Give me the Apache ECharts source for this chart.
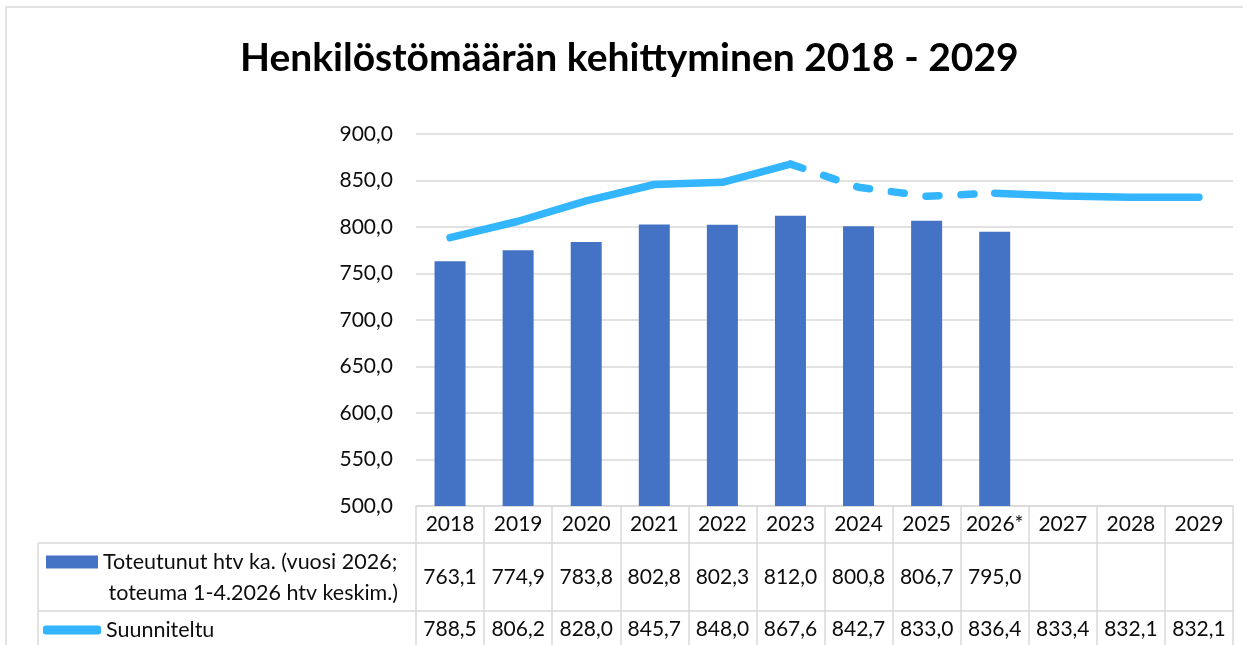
<!DOCTYPE html>
<html>
<head>
<meta charset="utf-8">
<title>Henkilöstömäärän kehittyminen</title>
<script src="https://cdn.jsdelivr.net/npm/echarts@6/dist/echarts.min.js"></script>
<style>
  html, body { margin: 0; padding: 0; background: #fff; }
  #chart { width: 1243px; height: 645px; }
</style>
</head>
<body>
<div id="chart"></div>
<script>
// vuodet ja arvot (luettu kuvasta)
const years = ['2018', '2019', '2020', '2021', '2022', '2023', '2024', '2025', '2026*', '2027', '2028', '2029'];
const toteutunut = [763.1, 774.9, 783.8, 802.8, 802.3, 812.0, 800.8, 806.7, 795.0, null, null, null];
const suunniteltu = [788.5, 806.2, 828.0, 845.7, 848.0, 867.6, 842.7, 833.0, 836.4, 833.4, 832.1, 832.1];
// katkoviivaosuus 2023 -> 2026*
const dashFrom = 5;
const dashTo = 8;
const yMin = 500, yMax = 900, yStep = 50;

const barName = 'Toteutunut htv ka. (vuosi 2026; toteuma 1-4.2026 htv keskim.)';
const lineName = 'Suunniteltu';

function fmt(v) {
  return v == null ? '' : v.toFixed(1).replace('.', ',');
}

// yhtenäinen ja katkoviiva erikseen
const solid = suunniteltu.map((v, i) => (i > dashFrom && i < dashTo) ? null : v);
const dashed = suunniteltu.map((v, i) => (i >= dashFrom && i <= dashTo) ? v : null);

const FONT = 'Lato';
const TXT = '#0d0d0d';
const BORDER = '#d9d9d9';
const FS = 21;

let myChart = echarts.init(document.getElementById('chart'));
myChart.setOption({
  animation: false,
  title: {
    text: 'Henkilöstömäärän kehittyminen 2018 - 2029',
    left: 235,
    top: 34,
    textStyle: { fontFamily: FONT, fontWeight: 'bold', fontSize: 39, color: '#000' }
  },
  grid: { left: 416, right: 10, top: 134, bottom: 139, containLabel: false },
  legend: [
    {
      data: [barName],
      left: 46,
      top: 526,
      padding: 0,
      itemWidth: 52,
      itemHeight: 13,
      icon: 'rect',
      // tyhjä rivi ylös, jotta ensimmäinen rivi osuu kuvakkeen kohdalle
      formatter: () => '{e| }\n{a|Toteutunut htv ka. (vuosi 2026;}\n{a| toteuma 1-4.2026 htv keskim.)}',
      textStyle: {
        fontFamily: FONT, fontSize: 21.5, color: TXT,
        rich: {
          e: { lineHeight: 31, fontSize: 10 },
          a: { lineHeight: 31, fontFamily: FONT, fontSize: 21.5, color: TXT }
        }
      }
    },
    {
      data: [lineName],
      left: 43,
      top: 619,
      padding: 0,
      itemWidth: 58,
      itemHeight: 9,
      icon: 'roundRect',
      textStyle: { fontFamily: FONT, fontSize: 21.5, color: TXT }
    }
  ],
  xAxis: [
    {
      type: 'category',
      data: years,
      position: 'bottom',
      axisLine: { show: true, lineStyle: { color: BORDER, width: 1.5 } },
      axisTick: { show: true, length: 150, lineStyle: { color: BORDER, width: 1.5 } },
      axisLabel: {
        interval: 0, margin: 18, verticalAlign: 'middle',
        fontFamily: FONT, fontSize: FS, color: TXT
      }
    },
    {
      type: 'category',
      data: years,
      position: 'bottom',
      offset: 37,
      axisLine: { show: true, lineStyle: { color: BORDER, width: 1.5 } },
      axisTick: { show: false },
      axisLabel: {
        interval: 0, margin: 34, verticalAlign: 'middle',
        fontFamily: FONT, fontSize: FS, color: TXT,
        formatter: (v, i) => fmt(toteutunut[i])
      }
    },
    {
      type: 'category',
      data: years,
      position: 'bottom',
      offset: 105,
      axisLine: { show: true, lineStyle: { color: BORDER, width: 1.5 } },
      axisTick: { show: false },
      axisLabel: {
        interval: 0, margin: 18, verticalAlign: 'middle',
        fontFamily: FONT, fontSize: FS, color: TXT,
        formatter: (v, i) => fmt(suunniteltu[i])
      }
    }
  ],
  yAxis: {
    type: 'value',
    min: yMin,
    max: yMax,
    interval: yStep,
    axisLine: { show: false },
    axisTick: { show: false },
    splitLine: { lineStyle: { color: BORDER, width: 1.5 } },
    axisLabel: {
      margin: 23,
      fontFamily: FONT, fontSize: FS, color: TXT,
      formatter: v => fmt(v)
    }
  },
  series: [
    {
      name: barName,
      type: 'bar',
      data: toteutunut,
      barWidth: 31,
      itemStyle: { color: '#4472c4' }
    },
    {
      name: lineName,
      type: 'line',
      data: solid,
      showSymbol: false,
      connectNulls: false,
      z: 3,
      itemStyle: { color: '#33b5ff' },
      lineStyle: { color: '#33b5ff', width: 7.5, cap: 'round', join: 'round' }
    },
    {
      name: 'Suunniteltu (katko)',
      type: 'line',
      data: dashed,
      showSymbol: false,
      connectNulls: false,
      z: 3,
      lineStyle: { color: '#33b5ff', width: 7.5, type: [13, 22], cap: 'round', join: 'round' }
    }
  ],
  graphic: [
    // ulkoreunus
    { type: 'rect', shape: { x: 6, y: 7, width: 1300, height: 700 }, style: { fill: 'none', stroke: BORDER, lineWidth: 1.5 }, silent: true },
    // taulukon selitesarakkeen viivat
    { type: 'line', shape: { x1: 38, y1: 543, x2: 416, y2: 543 }, style: { stroke: BORDER, lineWidth: 1.5 }, silent: true },
    { type: 'line', shape: { x1: 38, y1: 611, x2: 416, y2: 611 }, style: { stroke: BORDER, lineWidth: 1.5 }, silent: true },
    { type: 'line', shape: { x1: 38, y1: 543, x2: 38, y2: 660 }, style: { stroke: BORDER, lineWidth: 1.5 }, silent: true }
  ]
});
</script>
</body>
</html>
